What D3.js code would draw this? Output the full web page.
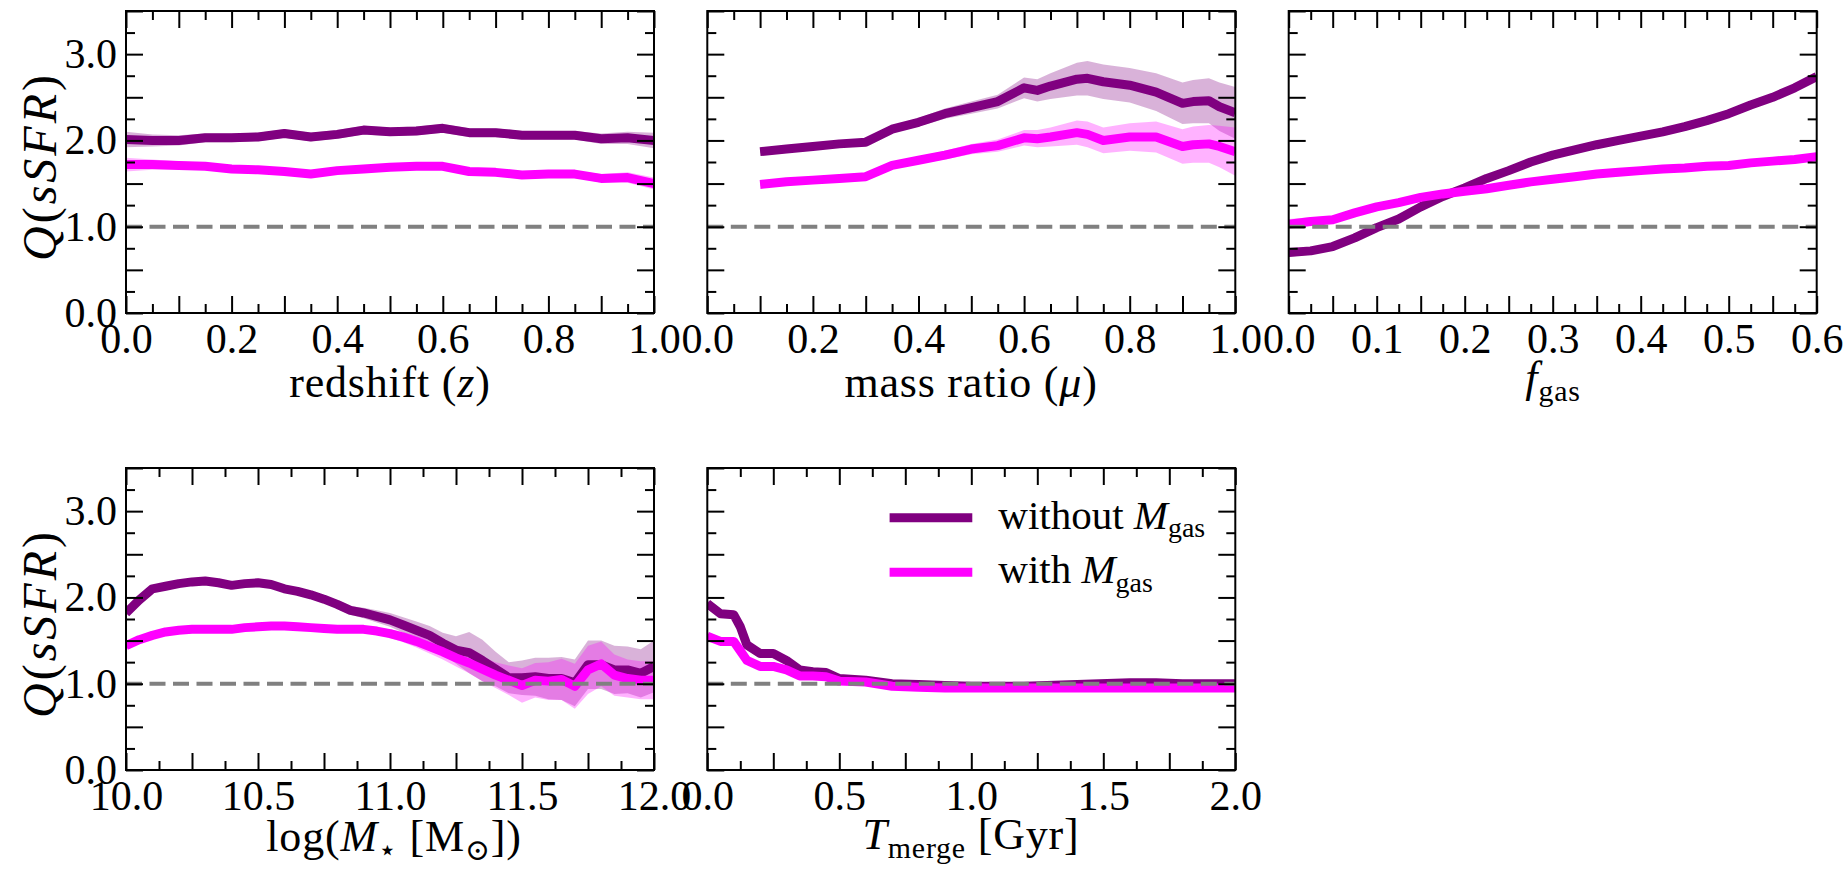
<!DOCTYPE html>
<html><head><meta charset="utf-8">
<script src="https://cdn.jsdelivr.net/npm/d3@7"></script>
<style>
body{margin:0;background:#fff;}
</style></head><body>
<svg id="chart" width="1846" height="870"></svg>
<script>
// ---------------- DATA ----------------
// Panel 1: redshift
const zX        = [0,0.05,0.1,0.15,0.2,0.25,0.3,0.35,0.4,0.45,0.5,0.55,0.6,0.65,0.7,0.75,0.8,0.85,0.9,0.95,1.0];
const zPurple   = [2.01,2.00,2.00,2.03,2.03,2.04,2.08,2.04,2.07,2.12,2.10,2.11,2.14,2.09,2.09,2.06,2.06,2.06,2.02,2.03,2.00];
const zPurpleE  = [0.09,0.07,0.06,0.05,0.05,0.05,0.05,0.05,0.05,0.05,0.05,0.05,0.05,0.05,0.05,0.05,0.05,0.05,0.06,0.07,0.09];
const zMag      = [1.72,1.72,1.71,1.70,1.67,1.66,1.64,1.61,1.65,1.67,1.69,1.70,1.70,1.64,1.63,1.60,1.61,1.61,1.56,1.57,1.50];
const zMagE     = [0.08,0.06,0.05,0.04,0.04,0.04,0.04,0.04,0.04,0.04,0.04,0.04,0.04,0.04,0.04,0.04,0.04,0.04,0.05,0.06,0.07];

// Panel 2: mass ratio
const muX       = [0.1,0.15,0.2,0.25,0.3,0.35,0.4,0.45,0.5,0.55,0.6,0.625,0.65,0.7,0.72,0.75,0.8,0.85,0.9,0.92,0.95,0.97,1.0];
const muPurple  = [1.87,1.90,1.93,1.96,1.98,2.13,2.21,2.31,2.38,2.45,2.61,2.58,2.63,2.71,2.72,2.68,2.64,2.56,2.43,2.45,2.46,2.39,2.32];
const muPurpleE = [0.02,0.02,0.02,0.02,0.03,0.04,0.05,0.06,0.07,0.08,0.12,0.13,0.15,0.19,0.2,0.2,0.2,0.22,0.24,0.25,0.26,0.28,0.3];
const muMag     = [1.49,1.52,1.54,1.56,1.58,1.71,1.77,1.83,1.90,1.94,2.03,2.02,2.04,2.09,2.07,2.00,2.04,2.04,1.93,1.95,1.96,1.93,1.87];
const muMagE    = [0.02,0.02,0.02,0.02,0.03,0.03,0.04,0.05,0.06,0.07,0.09,0.10,0.11,0.14,0.15,0.15,0.16,0.18,0.20,0.21,0.22,0.24,0.28];

// Panel 3: gas fraction
const fX        = [0,0.025,0.05,0.075,0.1,0.125,0.15,0.175,0.2,0.225,0.25,0.275,0.3,0.325,0.35,0.375,0.4,0.425,0.45,0.475,0.5,0.525,0.55,0.575,0.6];
const fPurple   = [0.70,0.72,0.77,0.87,0.99,1.09,1.23,1.35,1.45,1.56,1.65,1.75,1.83,1.89,1.95,2.00,2.05,2.10,2.16,2.23,2.31,2.41,2.50,2.61,2.74];
const fPurpleE  = [0.05,0.04,0.03,0.03,0.02,0.02,0.02,0.02,0.02,0.02,0.02,0.02,0.02,0.02,0.02,0.02,0.02,0.02,0.02,0.02,0.02,0.02,0.02,0.02,0.03];
const fMag      = [1.03,1.06,1.08,1.16,1.23,1.28,1.34,1.38,1.41,1.44,1.48,1.52,1.55,1.58,1.61,1.63,1.65,1.67,1.68,1.70,1.71,1.74,1.76,1.78,1.81];
const fMagE     = [0.06,0.05,0.04,0.03,0.03,0.02,0.02,0.02,0.02,0.02,0.02,0.02,0.02,0.02,0.02,0.02,0.02,0.02,0.02,0.02,0.02,0.02,0.02,0.02,0.02];

// Panel 4: stellar mass
const mX        = [10.0,10.05,10.1,10.15,10.2,10.25,10.3,10.35,10.4,10.45,10.5,10.55,10.6,10.65,10.7,10.75,10.8,10.85,10.9,10.95,11.0,11.05,11.1,11.15,11.2,11.25,11.3,11.35,11.4,11.45,11.5,11.55,11.6,11.65,11.7,11.75,11.8,11.85,11.9,11.95,12.0];
const mPurple   = [1.82,1.97,2.10,2.13,2.16,2.18,2.19,2.17,2.14,2.16,2.17,2.15,2.10,2.07,2.03,1.98,1.92,1.85,1.82,1.78,1.74,1.68,1.62,1.56,1.47,1.39,1.36,1.27,1.17,1.07,1.07,1.08,1.06,1.06,1.01,1.22,1.22,1.16,1.16,1.12,1.20];
const mPurpleE  = [0.04,0.04,0.04,0.04,0.04,0.04,0.04,0.04,0.04,0.04,0.04,0.04,0.04,0.04,0.04,0.04,0.05,0.05,0.06,0.07,0.08,0.09,0.10,0.11,0.12,0.16,0.24,0.24,0.2,0.18,0.2,0.22,0.24,0.25,0.27,0.28,0.28,0.28,0.27,0.28,0.3];
const mMag      = [1.44,1.51,1.56,1.60,1.62,1.63,1.63,1.63,1.63,1.65,1.66,1.67,1.67,1.66,1.65,1.64,1.63,1.63,1.63,1.61,1.58,1.54,1.49,1.43,1.37,1.30,1.24,1.17,1.10,1.04,0.98,1.04,1.03,1.05,0.97,1.16,1.23,1.10,1.06,1.04,1.04];
const mMagE     = [0.03,0.03,0.03,0.03,0.03,0.03,0.03,0.03,0.03,0.03,0.03,0.03,0.03,0.03,0.03,0.03,0.03,0.03,0.04,0.04,0.05,0.06,0.07,0.08,0.09,0.10,0.12,0.14,0.15,0.17,0.2,0.2,0.22,0.24,0.26,0.28,0.26,0.24,0.22,0.22,0.22];

// Panel 5: time since merger
const tX        = [0,0.05,0.1,0.125,0.15,0.2,0.25,0.3,0.35,0.4,0.45,0.5,0.6,0.7,0.8,0.9,1.0,1.2,1.4,1.6,1.7,1.8,2.0];
const tPurple   = [1.93,1.81,1.80,1.66,1.45,1.35,1.35,1.27,1.16,1.14,1.13,1.06,1.04,1.00,0.99,0.98,0.97,0.97,0.99,1.01,1.01,1.00,1.00];
const tPurpleE  = [0.04,0.03,0.03,0.03,0.03,0.03,0.03,0.02,0.02,0.02,0.02,0.02,0.02,0.02,0.02,0.02,0.02,0.02,0.02,0.02,0.02,0.02,0.02];
const tMag      = [1.55,1.49,1.49,1.38,1.27,1.20,1.20,1.16,1.09,1.09,1.08,1.03,1.02,0.97,0.96,0.95,0.95,0.95,0.95,0.95,0.95,0.95,0.95];
const tMagE     = [0.04,0.03,0.03,0.03,0.03,0.03,0.03,0.02,0.02,0.02,0.02,0.02,0.02,0.02,0.02,0.02,0.02,0.02,0.02,0.02,0.02,0.02,0.02];

// Tick labels
const yTickLabels  = [0, 1, 2, 3];
const zTickLabels  = [0, 0.2, 0.4, 0.6, 0.8, 1.0];
const fTickLabels  = [0, 0.1, 0.2, 0.3, 0.4, 0.5, 0.6];
const mTickLabels  = [10.0, 10.5, 11.0, 11.5, 12.0];
const tTickLabels  = [0, 0.5, 1.0, 1.5, 2.0];
const seriesNames  = ["without", "with"];

// ---------------- DRAW ----------------
const svg = d3.select("#chart");
const W = 528, H = 302;
const PURPLE = "#800080", MAGENTA = "#ff00ff";
const FONT = '"Liberation Serif", "Times New Roman", serif';

const panels = [
  {x0:126,   y0:11,  dom:[0,1],   minor:0.05,  major:0.1,  labels:zTickLabels, xs:zX,  p:zPurple,  pe:zPurpleE,  m:zMag,  me:zMagE,  ylab:true,
   xlabel:[{t:"redshift ("},{t:"z",it:1},{t:")"}], lx:390, ly:397},
  {x0:707.3, y0:11,  dom:[0,1],   minor:0.05,  major:0.1,  labels:zTickLabels, xs:muX, p:muPurple, pe:muPurpleE, m:muMag, me:muMagE, ylab:false,
   xlabel:[{t:"mass ratio ("},{t:"μ",it:1},{t:")"}], lx:971, ly:397},
  {x0:1288.7,y0:11,  dom:[0,0.6], minor:0.025, major:0.05, labels:fTickLabels, xs:fX,  p:fPurple,  pe:fPurpleE,  m:fMag,  me:fMagE,  ylab:false,
   xlabel:[{t:"f",it:1},{t:"gas",sub:1}], lx:1553, ly:392},
  {x0:126,   y0:468, dom:[10,12], minor:0.125, major:0.25, labels:mTickLabels, xs:mX,  p:mPurple,  pe:mPurpleE,  m:mMag,  me:mMagE,  ylab:true,
   xlabel:[{t:"log("},{t:"M",it:1},{t:"⋆",sub:1,font:'"DejaVu Serif"'},{t:" [M"},{t:"⊙",sub:1,font:'"DejaVu Serif"'},{t:"])"}], lx:394, ly:851},
  {x0:707.3, y0:468, dom:[0,2],   minor:0.125, major:0.25, labels:tTickLabels, xs:tX,  p:tPurple,  pe:tPurpleE,  m:tMag,  me:tMagE,  ylab:false,
   xlabel:[{t:"T",it:1},{t:"merge",sub:1},{t:" [Gyr]"}], lx:971, ly:849, legend:true}
];

function rich(sel, parts, size) {
  let shift = 0;
  parts.forEach(p => {
    const ts = sel.append("tspan").text(p.t).style("font-family", p.font || FONT);
    if (p.it) ts.style("font-style", "italic");
    const target = p.sub ? size * 0.2 : 0;
    if (target !== shift) { ts.attr("dy", target - shift); shift = target; }
    if (p.sub) ts.style("font-size", (size * 0.68) + "px");
  });
}

const ticksOf = (a, b, s) => d3.range(Math.round((b - a) / s) + 1).map(i => +(a + i * s).toFixed(6));
const near = (arr, v) => arr.some(u => Math.abs(u - v) < 1e-6);
const fmt = d3.format(".1f");

panels.forEach((P, i) => {
  const g = svg.append("g").attr("transform", `translate(${P.x0},${P.y0})`);
  const x = d3.scaleLinear().domain(P.dom).range([0, W]);
  const y = d3.scaleLinear().domain([0, 3.5]).range([H, 0]);

  const cid = "clip" + i;
  g.append("clipPath").attr("id", cid).append("rect").attr("width", W).attr("height", H);
  const plot = g.append("g").attr("clip-path", `url(#${cid})`);

  const series = [
    {v:P.p, e:P.pe, c:PURPLE},
    {v:P.m, e:P.me, c:MAGENTA}
  ];
  series.forEach(s => {
    const rows = P.xs.map((xv, k) => ({x:xv, v:s.v[k], e:s.e[k]}));
    plot.append("path").datum(rows)
      .attr("d", d3.area().x(d => x(d.x)).y0(d => y(d.v - d.e)).y1(d => y(d.v + d.e)))
      .attr("fill", s.c).attr("fill-opacity", 0.3).attr("stroke", "none");
  });
  series.forEach(s => {
    const rows = P.xs.map((xv, k) => ({x:xv, v:s.v[k]}));
    plot.append("path").datum(rows)
      .attr("d", d3.line().x(d => x(d.x)).y(d => y(d.v)))
      .attr("fill", "none").attr("stroke", s.c).attr("stroke-width", 9)
      .attr("stroke-linejoin", "round").attr("stroke-linecap", "butt");
  });
  plot.append("line").attr("x1", 0).attr("x2", W).attr("y1", y(1)).attr("y2", y(1))
    .attr("stroke", "#808080").attr("stroke-width", 4).attr("stroke-dasharray", "16,7.5");

  // axes
  const majX = ticksOf(P.dom[0], P.dom[1], P.major);
  const minX = ticksOf(P.dom[0], P.dom[1], P.minor).filter(v => !near(majX, v));
  const majY = ticksOf(0, 3.5, 0.5);
  const minY = ticksOf(0, 3.5, 0.25).filter(v => !near(majY, v));

  function style(ax) {
    ax.select(".domain").remove();
    ax.attr("font-size", null).attr("font-family", null);
    ax.selectAll("line").attr("stroke", "#000").attr("stroke-width", 2);
    ax.selectAll("text").attr("fill", "#000").style("font-family", FONT).style("font-size", "42px");
  }
  const none = () => "";
  style(g.append("g").attr("transform", `translate(0,${H})`)
    .call(d3.axisBottom(x).tickValues(majX).tickSize(-17).tickPadding(10)
      .tickFormat(d => near(P.labels, d) ? fmt(d) : "")));
  style(g.append("g").attr("transform", `translate(0,${H})`)
    .call(d3.axisBottom(x).tickValues(minX).tickSize(-9).tickFormat(none)));
  style(g.append("g").call(d3.axisTop(x).tickValues(majX).tickSize(-17).tickFormat(none)));
  style(g.append("g").call(d3.axisTop(x).tickValues(minX).tickSize(-9).tickFormat(none)));
  style(g.append("g")
    .call(d3.axisLeft(y).tickValues(majY).tickSize(-17).tickPadding(9)
      .tickFormat(d => (P.ylab && near(yTickLabels, d)) ? fmt(d) : "")));
  style(g.append("g").call(d3.axisLeft(y).tickValues(minY).tickSize(-9).tickFormat(none)));
  style(g.append("g").attr("transform", `translate(${W},0)`)
    .call(d3.axisRight(y).tickValues(majY).tickSize(-17).tickFormat(none)));
  style(g.append("g").attr("transform", `translate(${W},0)`)
    .call(d3.axisRight(y).tickValues(minY).tickSize(-9).tickFormat(none)));

  g.append("rect").attr("width", W).attr("height", H)
    .attr("fill", "none").attr("stroke", "#000").attr("stroke-width", 2);

  // x label
  const xl = svg.append("text").attr("x", P.lx).attr("y", P.ly)
    .attr("text-anchor", "middle").style("font-size", "44px").style("font-family", FONT)
    .style("letter-spacing", "0.8px");
  rich(xl, P.xlabel, 44);

  // y label
  if (P.ylab) {
    const yl = svg.append("text")
      .attr("transform", `translate(56,${P.y0 + H / 2 + 6}) rotate(-90)`)
      .attr("text-anchor", "middle").style("font-size", "48px").style("font-family", FONT)
      .attr("textLength", 186).attr("lengthAdjust", "spacing");
    rich(yl, [{t:"Q",it:1},{t:"("},{t:"sSFR",it:1},{t:")"}], 48);
  }

  if (P.legend) {
    const items = [{c:PURPLE, name:seriesNames[0]}, {c:MAGENTA, name:seriesNames[1]}];
    items.forEach((it, k) => {
      const ly = 49.7 + k * 54.6;
      g.append("line").attr("x1", 182.3).attr("x2", 265).attr("y1", ly).attr("y2", ly)
        .attr("stroke", it.c).attr("stroke-width", 9);
      const t = g.append("text").attr("x", 291).attr("y", ly + 11)
        .style("font-size", "41px").style("font-family", FONT);
      rich(t, [{t:it.name + " "},{t:"M",it:1},{t:"gas",sub:1}], 41);
    });
  }
});
</script>
</body></html>
